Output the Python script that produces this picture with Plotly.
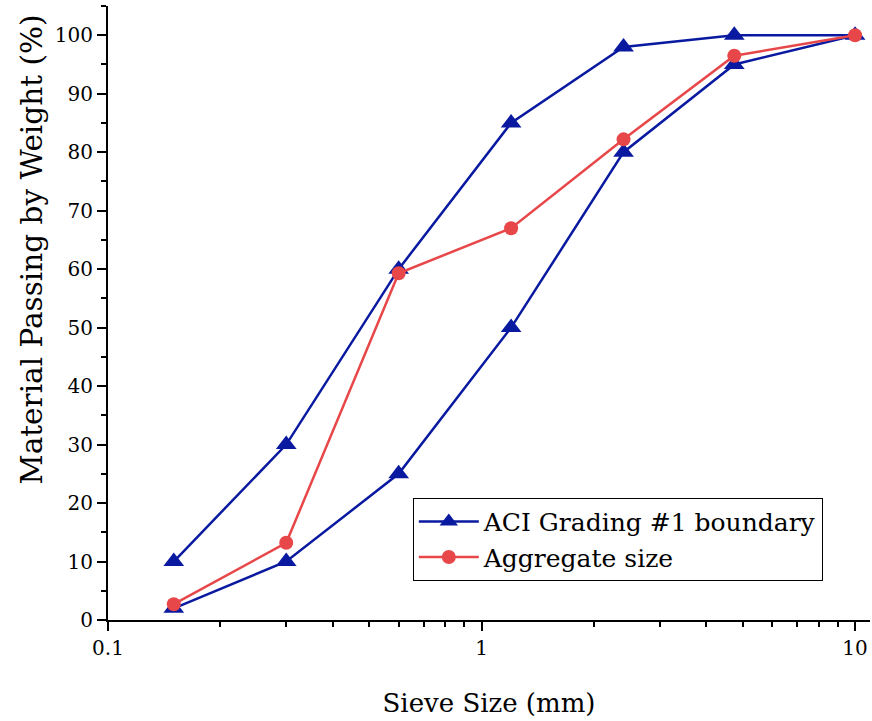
import plotly.graph_objects as go

sieve = [0.15, 0.3, 0.6, 1.2, 2.4, 4.75, 10]
lower = [2, 10, 25, 50, 80, 95, 100]
upper = [10, 30, 60, 85, 98, 100, 100]
aggregate = [2.7, 13.2, 59.3, 67, 82.2, 96.5, 100]

blue = "#0A1AA0"
red = "#E8474A"

bx = sieve + sieve[::-1][1:]
by = lower + upper[::-1][1:]

fig = go.Figure()
fig.add_trace(go.Scatter(
    x=bx, y=by, mode="lines+markers", name="ACI Grading #1 boundary",
    line=dict(color=blue, width=2.5),
    marker=dict(symbol="triangle-up", size=18, color=blue),
))
fig.add_trace(go.Scatter(
    x=sieve, y=aggregate, mode="lines+markers", name="Aggregate size",
    line=dict(color=red, width=2.5),
    marker=dict(symbol="circle", size=14, color=red),
))

font = "DejaVu Serif"
fig.update_layout(
    width=872, height=721,
    margin=dict(l=108, r=2, t=6, b=101),
    paper_bgcolor="white", plot_bgcolor="white",
    font=dict(family=font, size=20, color="black"),
    showlegend=True,
    legend=dict(
        x=0.4, y=0.199, xanchor="left", yanchor="top",
        bordercolor="black", borderwidth=1, bgcolor="white",
        font=dict(family=font, size=25, color="black"),
        itemwidth=60, tracegroupgap=0,
    ),
    annotations=[dict(
        text="Material Passing by Weight (%)", textangle=-90,
        xref="paper", yref="paper", x=-0.1, y=0.603,
        xanchor="center", yanchor="middle", showarrow=False,
        font=dict(family=font, size=29.5, color="black"),
    )],
)
fig.update_xaxes(
    type="log", range=[-1, 1.04],
    showline=True, linecolor="black", linewidth=2,
    ticks="outside", ticklen=9, tickwidth=2, tickcolor="black",
    tickvals=[0.1, 1, 10], ticktext=["0.1", "1", "10"],
    minor=dict(ticks="outside", ticklen=5, tickwidth=2, tickcolor="black",
               tickvals=[0.2,0.3,0.4,0.5,0.6,0.7,0.8,0.9,2,3,4,5,6,7,8,9]),
    showgrid=False, zeroline=False, mirror=False,
    tickfont=dict(family=font, size=20),
    title=dict(text="Sieve Size (mm)", font=dict(family=font, size=26), standoff=35),
)
fig.update_yaxes(
    range=[0, 105],
    showline=True, linecolor="black", linewidth=2,
    ticks="outside", ticklen=9, tickwidth=2, tickcolor="black",
    dtick=10, tick0=0,
    minor=dict(ticks="outside", ticklen=5, tickwidth=2, tickcolor="black", dtick=5, tick0=0),
    showgrid=False, zeroline=False, mirror=False,
    tickfont=dict(family=font, size=20),
)
fig.write_html("out.html")
